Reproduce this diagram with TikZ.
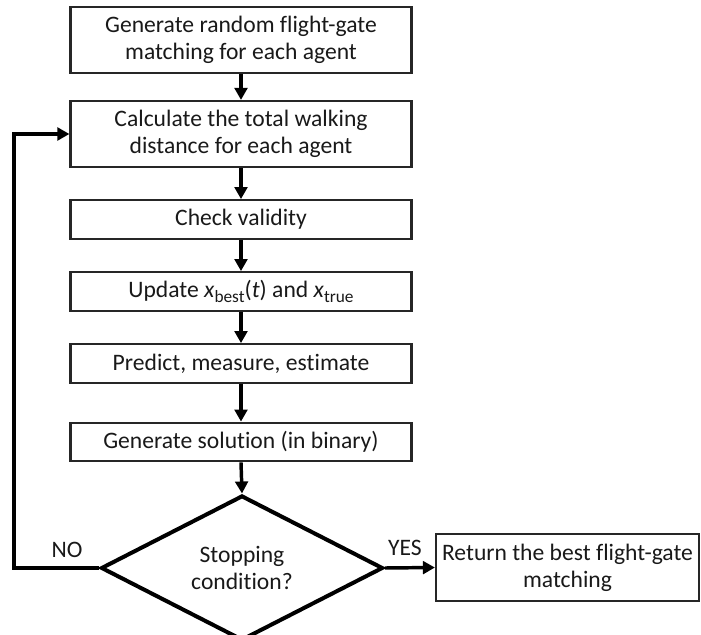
\documentclass[tikz,border=0pt]{standalone}
\usepackage{fontspec}
\setmainfont{Carlito}[Ligatures={NoCommon}]
\usetikzlibrary{shapes.geometric,arrows.meta}
\newcommand\lowsub[1]{\raisebox{-0.5ex}{\fontsize{13}{13}\selectfont #1}}
\begin{document}
\begin{tikzpicture}[x=0.75pt,y=-0.75pt,
  every node/.style={font=\fontsize{17.7}{20.3}\selectfont, text=black!90},
  procbox/.style={draw=black!85, line width=1.6pt, rectangle, inner sep=0pt,
     minimum width=255.75pt, align=center},
  twoline/.style={procbox, minimum height=49.5pt},
  oneline/.style={procbox, minimum height=29pt},
  decbox/.style={draw=black, line width=3pt, diamond, inner sep=0pt,
     minimum width=211.5pt, minimum height=102pt, align=center},
  flow/.style={draw=black, line width=2.6pt,
     -{Triangle[length=9pt,width=9.5pt]}},
  lbl/.style={inner sep=0pt}]
\useasboundingbox (0,0) rectangle (701,635);
\node[twoline] (b1) at (241,40) {Generate random flight-gate\\matching for each agent};
\node[twoline] (b2) at (241,134) {Calculate the total walking\\distance for each agent};
\node[oneline] (b3) at (241,219.5) {Check validity};
\node[oneline] (b4) at (241,291.5) {Update \textit{x}\lowsub{best}(\textit{t}) and \textit{x}\lowsub{true}};
\node[oneline] (b5) at (241,363.5) {Predict, measure, estimate};
\node[oneline] (b6) at (241,442) {Generate solution (in binary)};
\node[decbox] (dec) at (242,568) {Stopping\\condition?};
\node[procbox, minimum width=197.25pt, minimum height=50pt] (ret) at (567.5,567.5) {Return the best flight-gate\\matching};
\node[lbl] (no) at (67,550) {NO};
\node[lbl] (yes) at (405,548) {YES};
\coordinate (lc) at (14,134);
\draw[flow] (b1) -- (b2);
\draw[flow] (b2) -- (b3);
\draw[flow] (b3) -- (b4);
\draw[flow] (b4) -- (b5);
\draw[flow] (b5) -- (b6);
\draw[flow] (b6.south) -- (dec.north);
\draw[flow] (dec.east) -- (ret.west);
\draw[flow] (dec.west) -| (lc) -- (b2.west);
\end{tikzpicture}
\end{document}
